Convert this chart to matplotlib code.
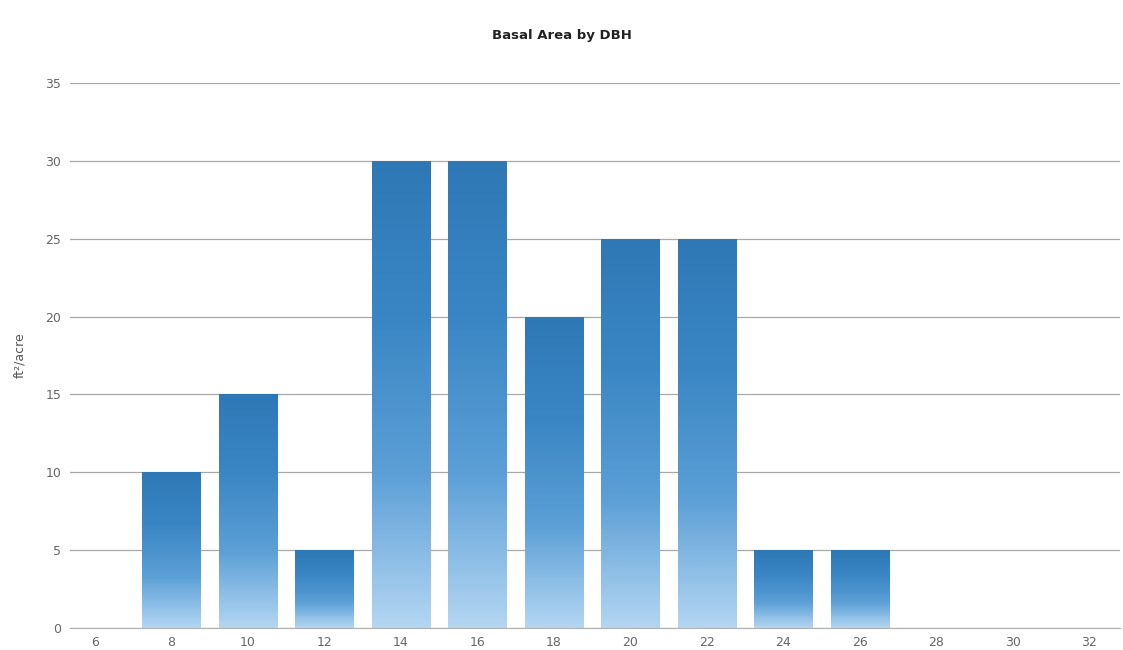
import numpy as np
import matplotlib.pyplot as plt
from matplotlib.colors import LinearSegmentedColormap

# DBH classes (inches) and basal area per class
dbh = ["6", "8", "10", "12", "14", "16", "18", "20", "22", "24", "26", "28", "30", "32"]
basal_area = [0, 10, 15, 5, 30, 30, 20, 25, 25, 5, 5, 0, 0, 0]
yticks = [0, 5, 10, 15, 20, 25, 30, 35]

fig = plt.figure(figsize=(11.23, 6.5), dpi=100)
ax = fig.add_axes([0.062, 0.034, 0.935, 0.838])

x = np.arange(len(dbh))
bars = ax.bar(x, basal_area, width=0.76, color="none", edgecolor="none")

# vertical gradient fill: light at the base, dark at the top
cmap = LinearSegmentedColormap.from_list("bar", ["#b4d6f2", "#5b9fd6", "#3a86c4", "#2f78b6"])
grad = np.linspace(0, 1, 256).reshape(-1, 1)
for b in bars:
    h = b.get_height()
    if h <= 0:
        continue
    x0 = b.get_x()
    im = ax.imshow(grad, cmap=cmap, origin="lower", aspect="auto",
                   extent=(x0, x0 + b.get_width(), 0, h), zorder=2)
    im.set_clip_path(b)

ax.set_xlim(-0.33, 13.4)
ax.set_ylim(0, 35)
ax.set_xticks(x)
ax.set_xticklabels(dbh)
ax.set_yticks(yticks)
ax.tick_params(length=0, labelsize=9, colors="#666666", pad=6)
ax.yaxis.grid(True, color="#a8a8a8", linewidth=0.9)
ax.set_axisbelow(True)
for s in ["top", "right", "left"]:
    ax.spines[s].set_visible(False)
ax.spines["bottom"].set_color("#b0b0b0")

ax.set_ylabel("ft²/acre", fontsize=9, color="#555555", labelpad=14)
fig.suptitle("Basal Area by DBH", y=0.955, fontsize=9.5, fontweight="bold", color="#222222")

fig.savefig("out.png", dpi=100)
